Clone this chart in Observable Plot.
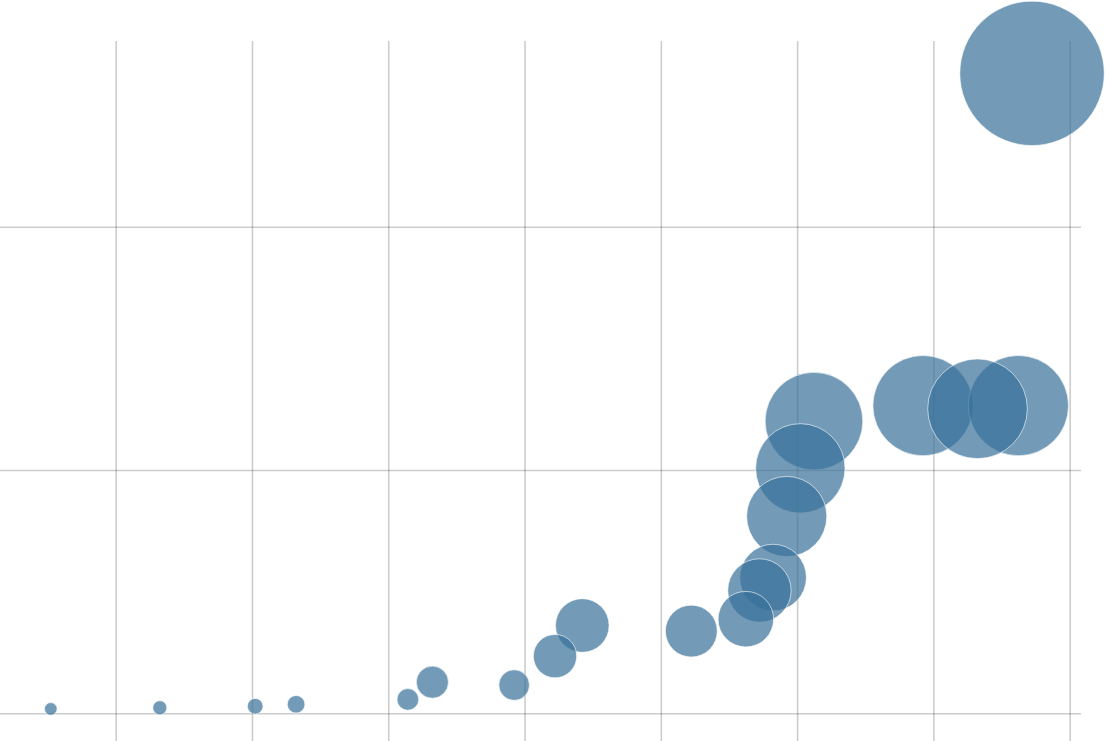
<!DOCTYPE html>
<html>
<head>
<meta charset="utf-8">
<style>
  html, body { margin: 0; padding: 0; background: #fff; }
  #chart svg { display: block; }
</style>
<script src="https://cdn.jsdelivr.net/npm/d3@7"></script>
<script src="https://cdn.jsdelivr.net/npm/@observablehq/plot@0.6"></script>
</head>
<body>
<div id="chart"></div>
<script>
const years = [1945.2, 1953.2, 1960.2, 1963.2, 1971.4, 1973.2, 1979.2, 1982.2, 1984.2, 1992.2,
               1996.2, 1997.2, 1998.2, 1999.2, 2000.2, 2001.2, 2009.2, 2013.2, 2016.2, 2017.2];
const values = [2.0, 2.5, 3.1, 3.9, 5.9, 13.0, 11.8, 23.7, 36.3, 34.0,
                38.9, 50.7, 56.0, 81.1, 100.9, 120.3, 126.7, 125.4, 126.7, 263.3];
const xTicks = [1950, 1960, 1970, 1980, 1990, 2000, 2010, 2020];
const yTicks = [0, 100, 200];

const data = years.map((x, i) => ({x, y: values[i]}));

const chart = Plot.plot({
  width: 1106,
  height: 741,
  marginTop: 41,
  marginBottom: 0,
  marginLeft: 0,
  marginRight: 25,
  x: {domain: [1941.51, 2020.83], axis: null},
  y: {domain: [-11.4, 276.4], axis: null},
  r: {domain: [0, 263.3], range: [0, 72.2]},
  marks: [
    Plot.ruleX(xTicks, {stroke: "#000", strokeOpacity: 0.2, strokeWidth: 1.6}),
    Plot.ruleY(yTicks, {stroke: "#000", strokeOpacity: 0.2, strokeWidth: 1.6}),
    Plot.dot(data, {
      x: "x", y: "y", r: "y",
      fill: "#37709a", fillOpacity: 0.7,
      stroke: "#fff", strokeOpacity: 0.6, strokeWidth: 1
    })
  ]
});
document.getElementById("chart").appendChild(chart);
</script>
</body>
</html>
